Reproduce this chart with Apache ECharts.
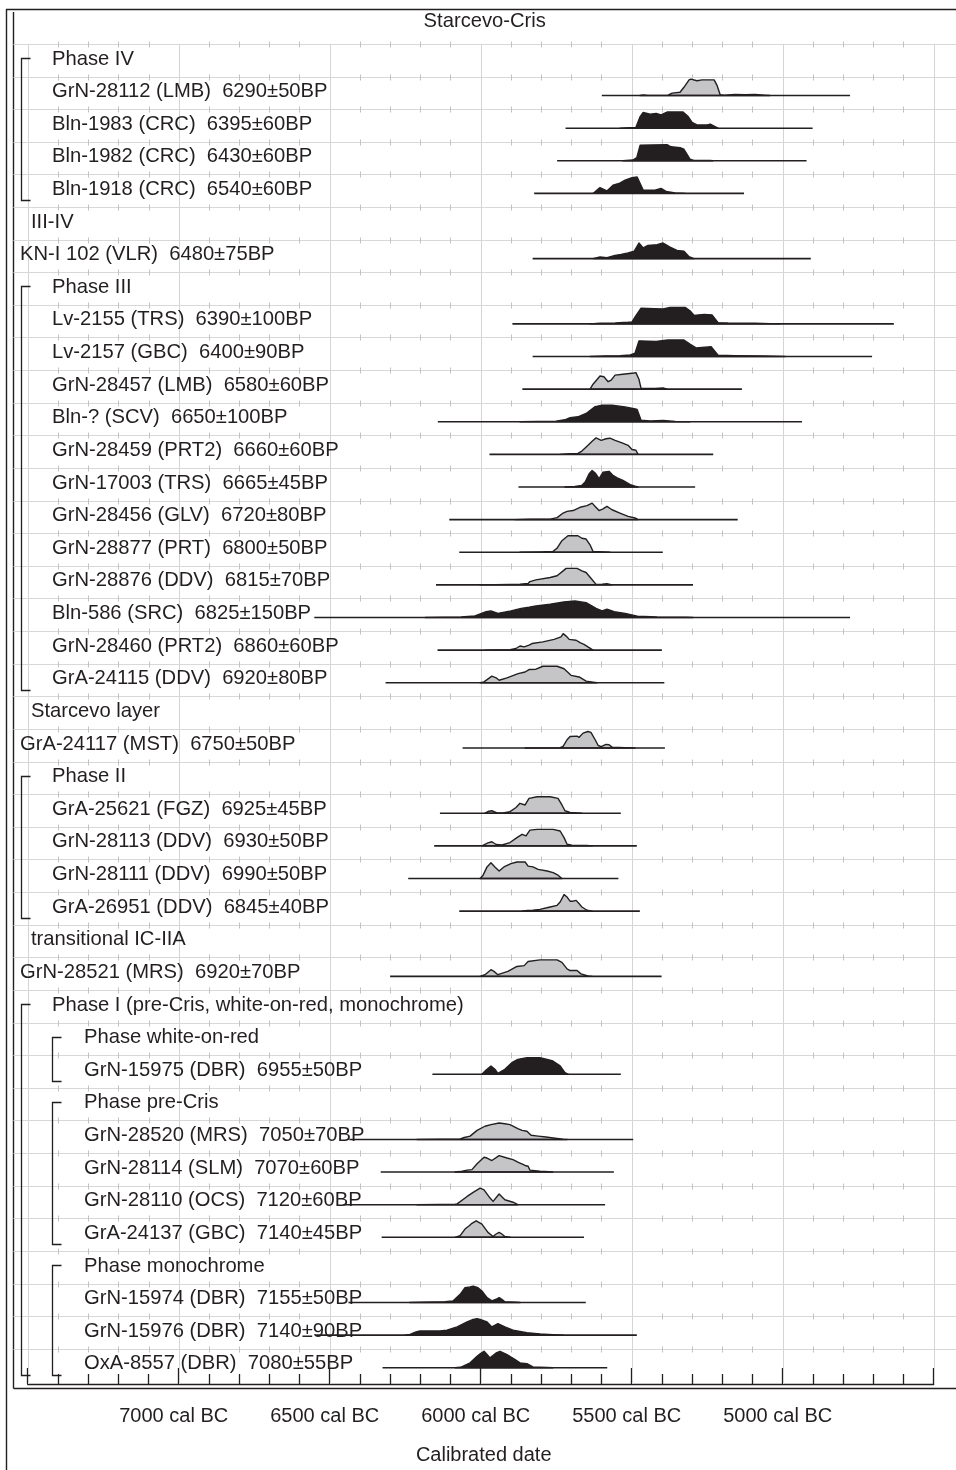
<!DOCTYPE html>
<html>
<head>
<meta charset="utf-8">
<script src="https://cdn.jsdelivr.net/npm/echarts/dist/echarts.min.js"></script>
<style>
html,body{margin:0;padding:0;background:#fff;}
#chart{width:956px;height:1470px;}
</style>
</head>
<body>
<div id="chart"></div>
<script>
// ---------------- DATA ----------------
const seqTitle = 'Starcevo-Cris';
const rowLabels = [
  'Phase IV',
  'GrN-28112 (LMB)  6290±50BP',
  'Bln-1983 (CRC)  6395±60BP',
  'Bln-1982 (CRC)  6430±60BP',
  'Bln-1918 (CRC)  6540±60BP',
  'III-IV',
  'KN-I 102 (VLR)  6480±75BP',
  'Phase III',
  'Lv-2155 (TRS)  6390±100BP',
  'Lv-2157 (GBC)  6400±90BP',
  'GrN-28457 (LMB)  6580±60BP',
  'Bln-? (SCV)  6650±100BP',
  'GrN-28459 (PRT2)  6660±60BP',
  'GrN-17003 (TRS)  6665±45BP',
  'GrN-28456 (GLV)  6720±80BP',
  'GrN-28877 (PRT)  6800±50BP',
  'GrN-28876 (DDV)  6815±70BP',
  'Bln-586 (SRC)  6825±150BP',
  'GrN-28460 (PRT2)  6860±60BP',
  'GrA-24115 (DDV)  6920±80BP',
  'Starcevo layer',
  'GrA-24117 (MST)  6750±50BP',
  'Phase II',
  'GrA-25621 (FGZ)  6925±45BP',
  'GrN-28113 (DDV)  6930±50BP',
  'GrN-28111 (DDV)  6990±50BP',
  'GrA-26951 (DDV)  6845±40BP',
  'transitional IC-IIA',
  'GrN-28521 (MRS)  6920±70BP',
  'Phase I (pre-Cris, white-on-red, monochrome)',
  'Phase white-on-red',
  'GrN-15975 (DBR)  6955±50BP',
  'Phase pre-Cris',
  'GrN-28520 (MRS)  7050±70BP',
  'GrN-28114 (SLM)  7070±60BP',
  'GrN-28110 (OCS)  7120±60BP',
  'GrA-24137 (GBC)  7140±45BP',
  'Phase monochrome',
  'GrN-15974 (DBR)  7155±50BP',
  'GrN-15976 (DBR)  7140±90BP',
  'OxA-8557 (DBR)  7080±55BP'
];
// indent level of each row label (0..3)
const rowIndent = [2,2,2,2,2,1,0,2,2,2,2,2,2,2,2,2,2,2,2,2,1,0,2,2,2,2,2,1,0,2,3,3,3,3,3,3,3,3,3,3,3];
// brackets: [first row, last row, level]
const brackets = [[1,5,0],[8,20,0],[23,27,0],[30,41,0],[31,32,1],[33,37,1],[38,41,1]];

// axis ticks (cal BC)
const majorYears = [4500,5000,5500,6000,6500,7000,7500];
const minorYears = [4600,4700,4800,4900,5100,5200,5300,5400,5600,5700,5800,5900,6100,6200,6300,6400,6600,6700,6800,6900,7100,7200,7300,7400];

// probability distributions: [year cal BC, relative density]
const GrN_28112 = [[5473,0],[5462,0.04],[5446,0],[5380,0.02],[5366,0.15],[5340,0.2],[5327,0.5],[5310,0.95],[5304,1],[5284,0.9],[5267,0.95],[5227,0.95],[5217,0.6],[5207,0.05],[5194,0.02],[5158,0.06],[5125,0.05],[5092,0.07],[5059,0.02],[5042,0]];
const Bln_1983 = [[5538,0],[5520,0.02],[5486,0.05],[5472,0.7],[5462,0.95],[5439,0.85],[5419,0.9],[5403,0.8],[5383,0.98],[5330,0.98],[5313,0.7],[5300,0.35],[5284,0.2],[5250,0.2],[5240,0.25],[5224,0.1],[5214,0]];
const Bln_1982 = [[5529,0],[5496,0.05],[5483,0.2],[5472,0.95],[5383,0.98],[5370,0.85],[5340,0.8],[5327,0.7],[5307,0.1],[5294,0.02],[5241,0.02],[5231,0]];
const Bln_1918 = [[5628,0],[5605,0.35],[5582,0.15],[5562,0.5],[5542,0.6],[5522,0.8],[5499,0.95],[5482,1],[5472,0.6],[5462,0.2],[5423,0.2],[5403,0.3],[5386,0.12],[5356,0.03],[5323,0]];
const KN_I_102 = [[5628,0],[5605,0.1],[5582,0.06],[5555,0.2],[5535,0.25],[5512,0.35],[5492,0.45],[5476,0.95],[5462,0.65],[5446,0.8],[5416,0.85],[5396,0.95],[5373,0.7],[5350,0.5],[5327,0.45],[5310,0.12],[5294,0]];
const Lv_2155 = [[5638,0],[5605,0.04],[5555,0.06],[5512,0.1],[5499,0.12],[5486,0.5],[5469,0.95],[5426,0.92],[5396,0.9],[5373,1],[5323,1],[5307,0.8],[5294,0.52],[5260,0.58],[5234,0.55],[5214,0.08],[5181,0.06],[5092,0.05],[5042,0.02],[5009,0]];
const Lv_2157 = [[5638,0],[5588,0.04],[5538,0.05],[5505,0.1],[5489,0.2],[5476,0.95],[5419,0.92],[5380,1],[5327,1],[5307,0.75],[5287,0.52],[5237,0.6],[5214,0.08],[5158,0.05],[5059,0.03],[4992,0]];
const GrN_28457 = [[5638,0],[5628,0.3],[5605,0.8],[5592,0.75],[5578,0.45],[5568,0.55],[5555,0.85],[5529,0.9],[5492,0.98],[5486,1],[5476,0.6],[5469,0.05],[5423,0.04],[5396,0.07],[5383,0]];
const Bln_q = [[5870,0],[5751,0.03],[5721,0.12],[5704,0.25],[5678,0.3],[5651,0.5],[5621,0.92],[5598,1],[5565,1],[5522,0.9],[5492,0.8],[5482,0.75],[5469,0.1],[5439,0.05],[5396,0.08],[5356,0.02],[5307,0]];
const GrN_28459 = [[5737,0],[5704,0.04],[5678,0.06],[5665,0.2],[5648,0.5],[5631,0.8],[5618,1],[5601,0.85],[5585,0.95],[5572,0.98],[5555,0.85],[5532,0.7],[5512,0.55],[5499,0.3],[5486,0.25],[5479,0]];
const GrN_17003 = [[5721,0],[5688,0.03],[5665,0.1],[5654,0.3],[5641,0.8],[5631,1],[5621,0.85],[5608,0.5],[5595,0.9],[5575,0.95],[5562,0.7],[5548,0.55],[5529,0.4],[5505,0.15],[5489,0.05],[5479,0]];
const GrN_28456 = [[5886,0],[5836,0.02],[5770,0.03],[5747,0.12],[5727,0.4],[5714,0.5],[5694,0.55],[5671,0.75],[5648,0.85],[5631,1],[5621,0.8],[5608,0.55],[5595,0.65],[5582,0.8],[5565,0.6],[5539,0.4],[5512,0.2],[5489,0.1],[5479,0]];
const GrN_28877 = [[5870,0],[5804,0.02],[5761,0.05],[5747,0.25],[5731,0.7],[5711,1],[5678,1],[5665,0.85],[5651,0.8],[5638,0.45],[5628,0.05],[5588,0.02],[5572,0]];
const GrN_28876 = [[6002,0],[5903,0.02],[5870,0.04],[5843,0.08],[5837,0.2],[5817,0.3],[5770,0.45],[5747,0.55],[5727,0.85],[5717,1],[5681,1],[5665,0.85],[5651,0.75],[5635,0.4],[5618,0.03],[5598,0.04],[5582,0.07],[5565,0]];
const Bln_586 = [[6184,0],[6065,0.03],[6019,0.1],[5982,0.35],[5966,0.4],[5943,0.25],[5900,0.4],[5866,0.55],[5840,0.62],[5817,0.7],[5770,0.8],[5724,0.95],[5688,1],[5651,0.9],[5618,0.55],[5598,0.4],[5582,0.5],[5558,0.35],[5522,0.25],[5481,0.08],[5416,0.03],[5320,0.02],[5297,0]];
const GrN_28460 = [[5986,0],[5903,0.03],[5883,0.1],[5870,0.25],[5856,0.2],[5840,0.3],[5830,0.4],[5794,0.5],[5757,0.65],[5734,0.8],[5727,1],[5717,0.85],[5707,0.65],[5684,0.6],[5671,0.45],[5658,0.35],[5641,0.15],[5628,0]];
const GrA_24115 = [[6002,0],[5989,0.05],[5963,0.4],[5949,0.3],[5939,0.15],[5913,0.3],[5876,0.55],[5853,0.65],[5840,0.8],[5817,0.82],[5794,1],[5747,1],[5724,0.85],[5701,0.45],[5674,0.35],[5651,0.1],[5628,0.04],[5615,0]];
const GrA_24117 = [[5853,0],[5737,0.02],[5727,0.1],[5714,0.5],[5704,0.7],[5681,0.72],[5674,0.65],[5661,0.9],[5645,1],[5635,0.95],[5621,0.5],[5611,0.15],[5601,0.08],[5585,0.22],[5575,0.2],[5565,0.05],[5522,0.02],[5489,0]];
const GrA_25621 = [[5986,0],[5973,0.12],[5963,0.15],[5946,0.02],[5926,0.02],[5903,0.1],[5883,0.35],[5870,0.6],[5853,0.5],[5840,0.9],[5813,1],[5770,1],[5744,0.9],[5731,0.5],[5721,0.15],[5704,0.05],[5678,0.02],[5665,0]];
const GrN_28113 = [[5996,0],[5976,0.18],[5963,0.25],[5949,0.08],[5930,0.05],[5903,0.2],[5880,0.5],[5863,0.7],[5850,0.6],[5837,0.95],[5813,1],[5760,1],[5737,0.9],[5724,0.5],[5714,0.1],[5698,0.04],[5648,0.02],[5631,0]];
const GrN_28111 = [[6002,0],[5992,0.2],[5979,0.7],[5966,0.95],[5953,0.7],[5939,0.45],[5923,0.7],[5900,0.9],[5880,1],[5853,1],[5843,0.75],[5827,0.7],[5810,0.55],[5780,0.45],[5760,0.35],[5744,0.2],[5731,0]];
const GrA_26951 = [[5863,0],[5846,0.04],[5827,0.05],[5804,0.1],[5770,0.25],[5747,0.35],[5737,0.55],[5724,1],[5714,0.85],[5704,0.6],[5694,0.6],[5684,0.65],[5674,0.45],[5665,0.25],[5648,0.05],[5631,0]];
const GrN_28521 = [[6002,0],[5986,0.1],[5966,0.4],[5956,0.3],[5943,0.1],[5910,0.3],[5880,0.6],[5856,0.65],[5843,0.9],[5804,1],[5747,1],[5731,0.85],[5714,0.45],[5704,0.35],[5681,0.35],[5668,0.15],[5645,0.02],[5631,0]];
const GrN_15975 = [[5996,0],[5982,0.25],[5966,0.5],[5953,0.3],[5943,0.05],[5920,0.3],[5897,0.7],[5877,0.9],[5847,1],[5804,1],[5780,0.9],[5761,0.8],[5737,0.5],[5721,0.1],[5711,0]];
const GrN_28520 = [[6211,0],[6135,0.02],[6068,0.03],[6058,0.1],[6035,0.2],[6012,0.55],[5986,0.8],[5966,0.9],[5939,1],[5920,0.95],[5903,0.9],[5877,0.65],[5863,0.55],[5847,0.5],[5833,0.25],[5810,0.2],[5784,0.15],[5754,0.08],[5727,0.02],[5714,0]];
const GrN_28114 = [[6085,0],[6068,0.03],[6045,0.12],[6029,0.15],[6012,0.5],[5989,0.9],[5979,0.85],[5963,0.7],[5939,1],[5913,0.85],[5893,0.75],[5877,0.6],[5853,0.4],[5843,0.35],[5837,0.12],[5804,0.05],[5761,0]];
const GrN_28110 = [[6211,0],[6135,0.02],[6085,0.03],[6078,0.05],[6045,0.5],[6025,0.75],[6002,1],[5989,0.9],[5969,0.4],[5959,0.2],[5939,0.65],[5920,0.3],[5893,0.15],[5877,0]];
const GrA_24137 = [[6085,0],[6068,0.1],[6052,0.5],[6038,0.7],[6029,0.85],[6015,1],[5996,0.8],[5982,0.45],[5976,0.3],[5959,0.05],[5949,0.2],[5939,0.3],[5930,0.2],[5920,0.05],[5903,0]];
const GrN_15974 = [[6235,0],[6201,0.02],[6158,0.03],[6118,0.05],[6092,0.1],[6068,0.5],[6052,0.9],[6035,0.95],[6025,1],[6009,0.9],[5996,0.7],[5979,0.3],[5963,0.1],[5949,0.2],[5939,0.3],[5930,0.2],[5920,0.05],[5880,0.02],[5870,0]];
const GrN_15976 = [[6251,0],[6234,0.05],[6214,0.2],[6201,0.25],[6135,0.25],[6112,0.3],[6078,0.5],[6045,0.8],[6025,0.95],[6012,1],[6002,0.95],[5979,0.8],[5963,0.5],[5943,0.7],[5920,0.5],[5893,0.3],[5847,0.15],[5804,0.08],[5761,0.03],[5727,0]];
const OxA_8557 = [[6085,0],[6068,0.03],[6058,0.1],[6035,0.3],[6012,0.7],[6002,0.85],[5989,1],[5979,0.8],[5969,0.6],[5949,0.9],[5936,1],[5913,0.8],[5886,0.5],[5870,0.3],[5847,0.25],[5827,0.05],[5780,0.02],[5761,0]];

// rows holding a distribution, its fill type (b = black, g = grey) and its range line [from, to] cal BC
const distRows  = [2,3,4,5,7,9,10,11,12,13,14,15,16,17,18,19,20,22,24,25,26,27,29,32,34,35,36,37,39,40,41];
const distFill  = ['g','b','b','b','b','b','b','g','b','g','b','g','g','g','b','g','g','g','g','g','g','g','g','b','g','g','g','g','b','b','b'];
const distRange = [[5599,4777],[5719,4901],[5747,4921],[5823,5128],[5828,4907],[5895,4632],[5828,4704],[5862,5135],[6142,4936],[5971,5230],[5875,5290],[6104,5149],[6071,5397],[6148,5297],[6551,4777],[6143,5400],[6315,5392],[6060,5390],[6135,5536],[6154,5483],[6240,5544],[6071,5473],[6300,5401],[6160,5536],[6435,5495],[6331,5559],[6455,5588],[6328,5658],[6438,5652],[6545,5483],[6325,5581]];
const distPoints = [GrN_28112,Bln_1983,Bln_1982,Bln_1918,KN_I_102,Lv_2155,Lv_2157,GrN_28457,Bln_q,GrN_28459,GrN_17003,GrN_28456,GrN_28877,GrN_28876,Bln_586,GrN_28460,GrA_24115,GrA_24117,GrA_25621,GrN_28113,GrN_28111,GrA_26951,GrN_28521,GrN_15975,GrN_28520,GrN_28114,GrN_28110,GrA_24137,GrN_15974,GrN_15976,OxA_8557];

// ---------------- RENDERING ----------------
const INK = '#231f20';
const GREY = '#c5c5c7';
const FF = '"Liberation Sans", Arial, Helvetica, sans-serif';
const FONT = '20.2px ' + FF;
const W = 956, HGT = 1470;
const FRAME_L = 13.5;
const indentX = [20, 31, 52, 84];
const bracketX = [21.5, 52.5];
const PEAK = 16.5;      // px height of a distribution peak
const BASE_OFF = 5;     // px baseline offset below row centre
const Y_MIN = -0.5, Y_MAX = 41.65;

const hLineRows = Array.from({length: 41}, (_, k) => k + 0.57);

function renderGrid(params, api) {
  const ch = [];
  const yTop = api.coord([6000, hLineRows[0]])[1];
  const yBot = api.coord([6000, Y_MAX])[1];
  majorYears.forEach(yr => {
    const x = Math.round(api.coord([yr, 0])[0]) + 0.5;
    ch.push({type: 'line', shape: {x1: x, y1: yTop, x2: x, y2: yBot}, style: {stroke: '#d4d4d4', lineWidth: 1}});
  });
  hLineRows.forEach(v => {
    const y = Math.round(api.coord([6000, v])[1]) + 0.5;
    ch.push({type: 'line', shape: {x1: FRAME_L, y1: y, x2: W, y2: y}, style: {stroke: '#d8d8d8', lineWidth: 1}});
    minorYears.forEach(yr => {
      const x = Math.round(api.coord([yr, v])[0]) + 0.5;
      ch.push({type: 'line', shape: {x1: x, y1: y - 3, x2: x, y2: y + 3}, style: {stroke: '#c2c2c2', lineWidth: 1}});
    });
  });
  return {type: 'group', children: ch, silent: true};
}

function renderDist(params, api) {
  const i = params.dataIndex;
  const row = distRows[i];
  const base = api.coord([6000, row])[1] + BASE_OFF;
  const pts = distPoints[i].map(p => [api.coord([p[0], row])[0], base - p[1] * PEAK]);
  pts.unshift([pts[0][0], base]);
  pts.push([pts[pts.length - 1][0], base]);
  const xa = api.coord([distRange[i][0], row])[0];
  const xb = api.coord([distRange[i][1], row])[0];
  return {type: 'group', children: [
    {type: 'polygon', shape: {points: pts}, style: {fill: distFill[i] === 'b' ? INK : GREY, stroke: INK, lineWidth: 1.4, lineJoin: 'round'}},
    {type: 'line', shape: {x1: xa, y1: base, x2: xb, y2: base}, style: {stroke: INK, lineWidth: 1.6}}
  ]};
}

function renderLabel(params, api) {
  const r = params.dataIndex;
  if (r === 0) {
    const y = api.coord([6000, -0.12])[1];
    return {type: 'text', x: (FRAME_L + W) / 2, y: y,
      style: {text: seqTitle, font: FONT, fill: INK, align: 'center', verticalAlign: 'middle', textAlign: 'center', textVerticalAlign: 'middle'}};
  }
  const y = api.coord([6000, r])[1] + 1;
  return {type: 'text', x: indentX[rowIndent[r - 1]], y: y,
    style: {text: rowLabels[r - 1], font: FONT, fill: INK, align: 'left', verticalAlign: 'middle', textAlign: 'left', textVerticalAlign: 'middle'}};
}

function renderBracket(params, api) {
  const b = brackets[params.dataIndex];
  const x = bracketX[b[2]];
  const y1 = Math.round(api.coord([6000, b[0]])[1]) + 0.5;
  const y2 = Math.round(api.coord([6000, b[1]])[1] + 12) + 0.5;
  return {type: 'polyline', shape: {points: [[x + 9, y1], [x, y1], [x, y2], [x + 9, y2]]},
    style: {stroke: INK, lineWidth: 1.3, fill: null}};
}

const chart = echarts.init(document.getElementById('chart'), null, {renderer: 'canvas', width: W, height: HGT});
chart.setOption({
  animation: false,
  backgroundColor: '#ffffff',
  grid: {left: 27.7, right: 22.3, top: 9, bottom: 82, containLabel: false},
  xAxis: {
    type: 'value', inverse: true, min: 4500, max: 7500, interval: 500, position: 'bottom',
    axisLine: {show: true, onZero: false, lineStyle: {color: INK, width: 1.4}},
    axisTick: {show: true, inside: true, length: 16, lineStyle: {color: INK, width: 1.3}},
    minorTick: {show: true, splitNumber: 5, length: 10, lineStyle: {color: INK, width: 1.3}},
    splitLine: {show: false},
    minorSplitLine: {show: false},
    axisLabel: {margin: 22, color: INK, fontSize: 20, fontFamily: FF, padding: [0, 10, 0, 0],
      formatter: v => (v === 4500 || v === 7500) ? '' : v + ' cal BC'},
    name: 'Calibrated date', nameLocation: 'middle', nameGap: 61,
    nameTextStyle: {color: INK, fontSize: 20, fontFamily: FF, padding: [0, 0, 0, 6]}
  },
  yAxis: {type: 'value', inverse: true, min: Y_MIN, max: Y_MAX, show: false},
  graphic: [
    {type: 'line', shape: {x1: 6.5, y1: 9, x2: 6.5, y2: HGT}, style: {stroke: INK, lineWidth: 1.4}},
    {type: 'line', shape: {x1: 6, y1: 9.5, x2: W, y2: 9.5}, style: {stroke: INK, lineWidth: 1.4}},
    {type: 'line', shape: {x1: FRAME_L, y1: 12, x2: FRAME_L, y2: 1388.5}, style: {stroke: INK, lineWidth: 1.4}},
    {type: 'line', shape: {x1: FRAME_L, y1: 1388.5, x2: W, y2: 1388.5}, style: {stroke: INK, lineWidth: 1.4}}
  ],
  series: [
    {type: 'custom', name: 'grid', coordinateSystem: 'cartesian2d', renderItem: renderGrid, data: [[6000, 0]], z: 1, silent: true},
    {type: 'custom', name: 'distributions', coordinateSystem: 'cartesian2d', renderItem: renderDist,
      data: distRows.map((r, i) => [distRange[i][0], r]), z: 3, silent: true},
    {type: 'custom', name: 'brackets', coordinateSystem: 'cartesian2d', renderItem: renderBracket,
      data: brackets.map(b => [6000, b[0]]), z: 4, silent: true},
    {type: 'custom', name: 'labels', coordinateSystem: 'cartesian2d', renderItem: renderLabel,
      data: Array.from({length: rowLabels.length + 1}, (_, r) => [6000, r]), z: 5, silent: true}
  ]
});
</script>
</body>
</html>
